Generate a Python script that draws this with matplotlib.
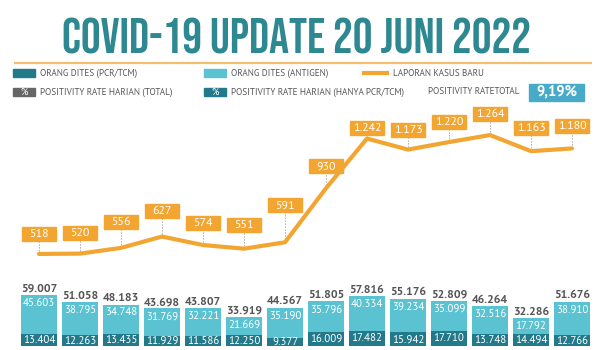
import matplotlib
matplotlib.use('Agg')
import matplotlib.pyplot as plt
from matplotlib.patches import Rectangle

# data (Indonesian daily covid update, 14 days)
pcr = [13404, 12263, 13435, 11929, 11586, 12250, 9377, 16009, 17482, 15942, 17710, 13748, 14494, 12766]
antigen = [45603, 38795, 34748, 31769, 32221, 21669, 35190, 35796, 40334, 39234, 35099, 32516, 17792, 38910]
totals = [59007, 51058, 48183, 43698, 43807, 33919, 44567, 51805, 57816, 55176, 52809, 46264, 32286, 51676]
kasus = [518, 520, 556, 627, 574, 551, 591, 930, 1242, 1173, 1220, 1264, 1163, 1180]
positivity_total = '9,19%'
title = 'COVID-19 UPDATE 20 JUNI 2022'

# how far (px) each value box sits above its point
label_lift = [20, 21, 26, 26, 22, 24, 37, 22, 11, 20, 20, 21, 23, 22]

W, H = 596, 350
DARK = '#22798a'
LIGHT = '#5ac2d1'
ORANGE = '#f2a631'
TEAL_TITLE = '#2e8891'
GRAY_TXT = '#555555'
BODY = ['PT Sans', 'Open Sans', 'DejaVu Sans']
TITLE_FONT = ['Bebas Neue', 'Oswald', 'Barlow Condensed', 'DejaVu Sans']
LEG_FS = 6.6


def fmt(v):
    return f'{v:,}'.replace(',', '.')


def add_px_axes(fig, left, top, right, bottom):
    return fig.add_axes([left / W, 1 - bottom / H, (right - left) / W, (bottom - top) / H])


fig = plt.figure(figsize=(W / 100, H / 100), dpi=100)
fig.patch.set_facecolor('white')

# overlay in pixel coords for title / legend
ov = fig.add_axes([0, 0, 1, 1])
ov.set_xlim(0, W)
ov.set_ylim(H, 0)
ov.axis('off')

t = ov.text(297, 36, title, ha='center', va='center', color=TEAL_TITLE,
            fontsize=34, fontweight='bold', family=TITLE_FONT)
r = fig.canvas.get_renderer()
w = t.get_window_extent(renderer=r).width
t.set_fontsize(min(36, 34 * 468 / w))

ov.plot([14, 592], [62.5, 62.5], color='#f4bd6b', lw=1.6, solid_capstyle='butt')

# legend row 1
ov.add_patch(Rectangle((13, 68.5), 22, 8.5, color=DARK))
ov.text(40, 73, 'ORANG DITES (PCR/TCM)', va='center', fontsize=LEG_FS, color=GRAY_TXT, family=BODY)
ov.add_patch(Rectangle((204, 68.5), 22, 8.5, color=LIGHT))
ov.text(231, 73, 'ORANG DITES (ANTIGEN)', va='center', fontsize=LEG_FS, color=GRAY_TXT, family=BODY)
ov.plot([364, 387], [72.5, 72.5], color=ORANGE, lw=3)
ov.text(393, 73, 'LAPORAN KASUS BARU', va='center', fontsize=LEG_FS, color=GRAY_TXT, family=BODY)

# legend row 2
ov.add_patch(Rectangle((13, 87.5), 22, 8.5, color='#666666'))
ov.text(24, 92, '%', ha='center', va='center', fontsize=6.8, color='white', family=BODY)
ov.text(40, 92, 'POSITIVITY RATE HARIAN (TOTAL)', va='center', fontsize=LEG_FS, color=GRAY_TXT, family=BODY)
ov.add_patch(Rectangle((204, 87.5), 22, 8.5, color=DARK))
ov.text(215, 92, '%', ha='center', va='center', fontsize=6.8, color='white', family=BODY)
ov.text(231, 92, 'POSITIVITY RATE HARIAN (HANYA PCR/TCM)', va='center', fontsize=LEG_FS, color=GRAY_TXT, family=BODY)
ov.text(428, 92, 'POSITIVITY RATETOTAL', va='center', fontsize=LEG_FS, color=GRAY_TXT, family=BODY)
ov.add_patch(Rectangle((529, 83.5), 55, 17, color='#47abc8'))
ov.text(556.5, 92, positivity_total, ha='center', va='center', fontsize=10.5,
        fontweight='bold', color='white', family=BODY)

x = list(range(len(kasus)))

# stacked bars: pcr at the bottom, antigen on top
axb = add_px_axes(fig, 18.5, 250, 592.5, 346)
axb.set_xlim(-0.5, len(x) - 0.5)
axb.set_ylim(0, 96 / 0.00086)
axb.axis('off')
axb.bar(x, pcr, width=0.9, color=DARK, linewidth=0)
axb.bar(x, antigen, width=0.9, bottom=pcr, color=LIGHT, linewidth=0)
for i in x:
    axb.annotate(fmt(totals[i]), (i, pcr[i] + antigen[i]), xytext=(0, 1), textcoords='offset points',
                 ha='center', va='bottom', fontsize=8.5, fontweight='bold', color=GRAY_TXT, family=BODY)
    axb.annotate(fmt(antigen[i]), (i, pcr[i] + antigen[i]), xytext=(0, -5.6), textcoords='offset points',
                 ha='center', va='center', fontsize=7.8, color='white', family=BODY)
    axb.annotate(fmt(pcr[i]), (i, pcr[i] / 2), ha='center', va='center',
                 fontsize=7.8, color='white', family=BODY)

# daily new cases line
axl = add_px_axes(fig, 18.5, 100, 592.5, 260)
ymin, ymax = 480, 1484
axl.set_xlim(-0.5, len(x) - 0.5)
axl.set_ylim(ymin, ymax)
axl.axis('off')
ppu = 160 / (ymax - ymin)  # px per case
box_h = 14 / ppu
for i in x:
    yc = kasus[i] + label_lift[i] / ppu
    axl.plot([i, i], [kasus[i], yc - box_h / 2], color='#a8a8a8', lw=0.6,
             dashes=(2, 1.5), zorder=1)
    axl.add_patch(Rectangle((i - 0.415, yc - box_h / 2), 0.83, box_h, color=ORANGE, zorder=3))
    axl.text(i, yc, fmt(kasus[i]), ha='center', va='center', fontsize=8.6,
             color='white', family=BODY, zorder=4)
axl.plot(x, kasus, color=ORANGE, lw=3, solid_joinstyle='round', solid_capstyle='round', zorder=2)

fig.savefig('out.png', dpi=100)
